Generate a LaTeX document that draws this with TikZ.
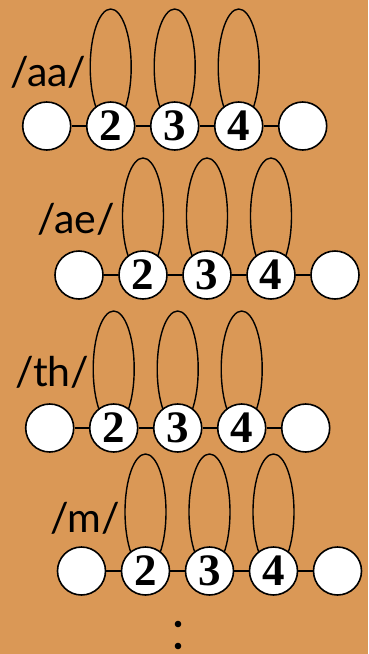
\documentclass[tikz,border=0pt]{standalone}
\usepackage{fontspec}
\setmainfont{Liberation Serif}
\newfontfamily\phonfont{Lato}
\usetikzlibrary{shapes.geometric}
\definecolor{bg}{RGB}{218,152,86}
\begin{document}
\begin{tikzpicture}[x=1pt,y=-1pt,
  state/.style={circle,draw,line width=1.6pt,fill=white,minimum size=48pt,inner sep=0pt,
    font=\bfseries\fontsize{45}{45}\selectfont},
  loopell/.style={ellipse,draw,line width=1.4pt,minimum width=41pt,minimum height=116pt,inner sep=0pt},
  link/.style={line width=1.5pt},
  phon/.style={font=\phonfont\fontsize{41}{41}\selectfont,anchor=base west,inner sep=0pt},
  dotnode/.style={circle,fill=black,minimum size=6.6pt,inner sep=0pt}]
\fill[bg] (0,0) rectangle (368,654);
\useasboundingbox (0,0) rectangle (368,654);
\foreach \r/\x/\y/\lab/\lx/\ly in {1/46.7/126/aa/10/86, 2/79/275/ae/37/233, 3/49.7/428/th/15/386, 4/81.5/571/m/50/532}{
  \foreach \i in {2,3,4}
    \node[loopell] (e\r\i) at ({\x+64*(\i-1)},{\y-59}) {};
  \node[phon] (lab\r) at (\lx,\ly) {/\lab/};
  \node[state] (c\r1) at (\x,\y) {};
  \node[state] (c\r2) at ({\x+64},\y) {2};
  \node[state] (c\r3) at ({\x+128},\y) {3};
  \node[state] (c\r4) at ({\x+192},\y) {4};
  \node[state] (c\r5) at ({\x+256},\y) {};
  \draw[link] (c\r1) -- (c\r2);
  \draw[link] (c\r2) -- (c\r3);
  \draw[link] (c\r3) -- (c\r4);
  \draw[link] (c\r4) -- (c\r5);
}
\node[dotnode] (d1) at (178,624) {};
\node[dotnode] (d2) at (178,646) {};
\end{tikzpicture}
\end{document}
